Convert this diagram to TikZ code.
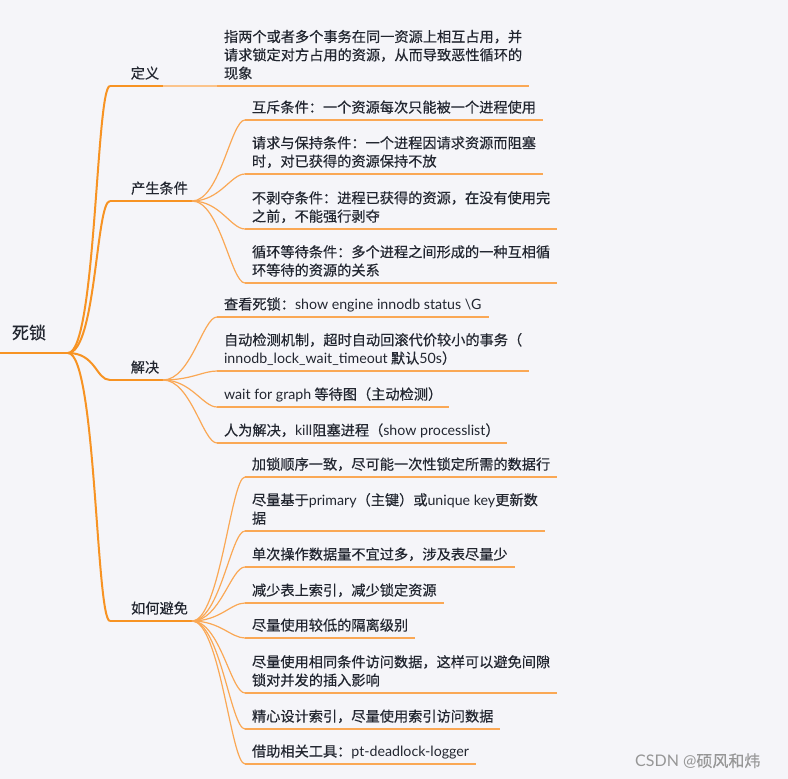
\documentclass[tikz,border=0pt]{standalone}
\usepackage{fontspec}
\setmainfont[FakeBold=0.4,AutoFakeBold=0.4]{Noto Sans CJK SC}
\newfontfamily\latinfont{Lato}
\newcommand\lt[1]{{\latinfont #1}}
\definecolor{bgc}{RGB}{245,245,249}
\definecolor{txt}{RGB}{34,38,48}
\definecolor{orA}{RGB}{247,147,35}
\definecolor{orB}{RGB}{250,168,85}
\definecolor{orC}{RGB}{251,196,140}
\definecolor{wm}{RGB}{150,150,150}
\tikzset{
  base/.style={anchor=south west, outer sep=0pt, inner ysep=0pt, text=txt, align=left, text depth=7.5pt},
  rootnode/.style={base, font=\fontsize{17}{20}\selectfont, inner xsep=0pt, text width=68pt, text depth=14pt},
  lvone/.style={base, font=\fontsize{14.2}{18.3}\selectfont, inner xsep=0pt},
  item/.style={base, font=\fontsize{14.2}{18.3}\selectfont, inner xsep=7pt},
  mainline/.style={draw=orA, line width=2pt},
  subline/.style={draw=orB, line width=1.2pt},
  underl/.style={draw=orB, line width=1.8pt},
  linkline/.style={draw=orC, line width=1.8pt},
}
\begin{document}
\begin{tikzpicture}[x=1pt,y=-1pt]
\fill[bgc] (0,0) rectangle (788,779);
\useasboundingbox (0,0) rectangle (788,779);

% root
\node[rootnode] (root) at (0,353) {\hspace*{12pt}死锁};
\draw[mainline] (root.south west) -- (root.south east);

% level 1
\node[lvone, minimum width=53pt] (def) at (110,86) {\hspace*{17pt}定义};
\node[lvone, minimum width=82pt] (cond) at (110,201) {\hspace*{17pt}产生条件};
\node[lvone, minimum width=53pt] (sol) at (110,380) {\hspace*{17pt}解决};
\node[lvone, minimum width=82pt] (avoid) at (110,621) {\hspace*{17pt}如何避免};

\foreach \n in {def,cond,sol,avoid}{
  \draw[mainline] (root.south east) .. controls +(28,0) and +(-14,0) .. (\n.south west);
  \draw[mainline] (\n.south west) -- (\n.south east);
}

% definition child
\node[item] (d1) at (217,86) {指两个或者多个事务在同一资源上相互占用，并\\请求锁定对方占用的资源，从而导致恶性循环的\\现象};
\draw[linkline] (def.south east) -- (d1.south west);

% conditions
\node[item] (c1) at (245,120) {互斥条件：一个资源每次只能被一个进程使用};
\node[item] (c2) at (245,174) {请求与保持条件：一个进程因请求资源而阻塞\\时，对已获得的资源保持不放};
\node[item] (c3) at (245,229) {不剥夺条件：进程已获得的资源，在没有使用完\\之前，不能强行剥夺};
\node[item] (c4) at (245,283) {循环等待条件：多个进程之间形成的一种互相循\\环等待的资源的关系};

% solutions
\node[item] (s1) at (217,317) {查看死锁：\lt{show engine innodb status \textbackslash G}};
\node[item] (s2) at (217,371) {自动检测机制，超时自动回滚代价较小的事务（\\\lt{innodb\_lock\_wait\_timeout} 默认\lt{50s}）};
\node[item] (s3) at (217,407) {\lt{wait for graph} 等待图（主动检测）};
\node[item] (s4) at (217,443) {人为解决，\lt{kill}阻塞进程（\lt{show processlist}）};

% avoid
\node[item] (a1) at (245,477) {加锁顺序一致，尽可能一次性锁定所需的数据行};
\node[item] (a2) at (245,531) {尽量基于\lt{primary}（主键）或\lt{unique key}更新数\\据};
\node[item] (a3) at (245,567) {单次操作数据量不宜过多，涉及表尽量少};
\node[item] (a4) at (245,603) {减少表上索引，减少锁定资源};
\node[item] (a5) at (245,638) {尽量使用较低的隔离级别};
\node[item] (a6) at (245,693) {尽量使用相同条件访问数据，这样可以避免间隙\\锁对并发的插入影响};
\node[item] (a7) at (245,729) {精心设计索引，尽量使用索引访问数据};
\node[item] (a8) at (245,764) {借助相关工具：\lt{pt-deadlock-logger}};

\foreach \n in {d1,c1,c2,c3,c4,s1,s2,s3,s4,a1,a2,a3,a4,a5,a6,a7,a8}{
  \draw[underl] (\n.south west) -- (\n.south east);
}
\foreach \n in {c1,c2,c3,c4}{
  \draw[subline] (cond.south east) .. controls +(28,0) and +(-14,0) .. (\n.south west);
}
\foreach \n in {s1,s2,s3,s4}{
  \draw[subline] (sol.south east) .. controls +(28,0) and +(-14,0) .. (\n.south west);
}
\foreach \n in {a1,a2,a3,a4,a5,a6,a7,a8}{
  \draw[subline] (avoid.south east) .. controls +(28,0) and +(-14,0) .. (\n.south west);
}

% watermark
\node[anchor=west, text=wm, font=\fontsize{16}{18}\selectfont, inner sep=0pt] (wmk) at (635,761) {\lt{CSDN @}硕风和炜};
\end{tikzpicture}
\end{document}
